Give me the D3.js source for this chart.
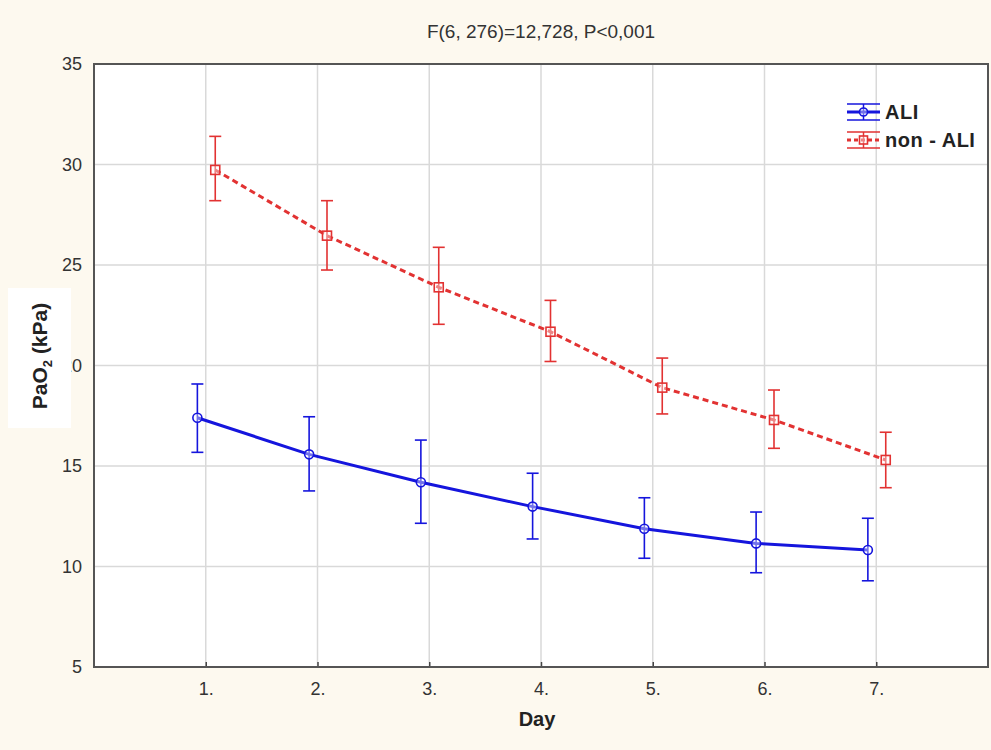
<!DOCTYPE html>
<html>
<head>
<meta charset="utf-8">
<script src="https://cdn.jsdelivr.net/npm/d3@7"></script>
<style>
  body { margin: 0; background: #fdf9ef; }
  svg { display: block; font-family: "Liberation Sans", Arial, sans-serif; }
</style>
</head>
<body>
<div id="chart-area"></div>
<script>
// data
var days = ["1.", "2.", "3.", "4.", "5.", "6.", "7."];
var aliMean = [17.4, 15.58, 14.19, 12.98, 11.88, 11.15, 10.82];
var aliUpper = [19.08, 17.45, 16.29, 14.64, 13.42, 12.71, 12.40];
var aliLower = [15.68, 13.76, 12.15, 11.37, 10.41, 9.69, 9.29];
var nonMean = [29.73, 26.46, 23.89, 21.68, 18.9, 17.29, 15.3];
var nonUpper = [31.4, 28.2, 25.88, 23.24, 20.37, 18.78, 16.68];
var nonLower = [28.2, 24.75, 22.05, 20.2, 17.59, 15.88, 13.92];
var yTicks = [5, 10, 15, 20, 25, 30, 35];

var width = 991, height = 750;
var margin = {top: 64, right: 3, bottom: 83, left: 94};

var svg = d3.select("#chart-area").append("svg")
    .attr("width", width)
    .attr("height", height);

var x = d3.scaleLinear().domain([0, 8]).range([margin.left, width - margin.right]);
var y = d3.scaleLinear().domain([5, 35]).range([height - margin.bottom, margin.top]);

// plot area
svg.append("rect")
    .attr("x", x(0)).attr("y", y(35))
    .attr("width", x(8) - x(0)).attr("height", y(5) - y(35))
    .style("fill", "white");

// grid
svg.append("g").selectAll("line.h")
    .data(yTicks.slice(1, -1))
    .enter().append("line")
    .attr("x1", x(0)).attr("x2", x(8))
    .attr("y1", function(d) { return y(d); })
    .attr("y2", function(d) { return y(d); })
    .style("stroke", "#d9d9d9").style("stroke-width", 1.5);

svg.append("g").selectAll("line.v")
    .data(days)
    .enter().append("line")
    .attr("x1", function(d, i) { return x(i + 1); })
    .attr("x2", function(d, i) { return x(i + 1); })
    .attr("y1", y(35)).attr("y2", y(5))
    .style("stroke", "#d9d9d9").style("stroke-width", 1.5);

// axes
var yAxis = d3.axisLeft(y).tickValues(yTicks).tickSize(0).tickPadding(12);
var gy = svg.append("g")
    .attr("transform", "translate(" + x(0) + ",0)")
    .call(yAxis);
gy.select(".domain").remove();
gy.selectAll("text").style("font-size", "18px").style("fill", "#333");

var xAxis = d3.axisBottom(x)
    .tickValues(d3.range(1, 8))
    .tickFormat(function(d) { return days[d - 1]; })
    .tickSizeInner(-5).tickSizeOuter(0).tickPadding(15);
var gx = svg.append("g")
    .attr("transform", "translate(0," + y(5) + ")")
    .call(xAxis);
gx.select(".domain").remove();
gx.selectAll("line").style("stroke", "#444").style("stroke-width", 1.5);
gx.selectAll("text").style("font-size", "18px").style("fill", "#333");

// frame
svg.append("rect")
    .attr("x", x(0)).attr("y", y(35))
    .attr("width", x(8) - x(0)).attr("height", y(5) - y(35))
    .style("fill", "none").style("stroke", "#555").style("stroke-width", 2);

// series
var series = [
    {name: "ALI", mean: aliMean, hi: aliUpper, lo: aliLower, color: "#1515dd", dx: -0.075, dash: null, shape: "circle"},
    {name: "non - ALI", mean: nonMean, hi: nonUpper, lo: nonLower, color: "#e23232", dx: 0.085, dash: "6,4", shape: "square"}
];

series.forEach(function(s) {
    var pts = s.mean.map(function(v, i) { return {x: i + 1 + s.dx, v: v, hi: s.hi[i], lo: s.lo[i]}; });
    var g = svg.append("g");

    g.append("path")
        .datum(pts)
        .attr("d", d3.line().x(function(d) { return x(d.x); }).y(function(d) { return y(d.v); }))
        .style("fill", "none")
        .style("stroke", s.color)
        .style("stroke-width", 3)
        .style("stroke-dasharray", s.dash);

    // error bars
    g.selectAll("line.err")
        .data(pts).enter().append("line")
        .attr("x1", function(d) { return x(d.x); })
        .attr("x2", function(d) { return x(d.x); })
        .attr("y1", function(d) { return y(d.hi); })
        .attr("y2", function(d) { return y(d.lo); })
        .style("stroke", s.color).style("stroke-width", 1.6);
    ["hi", "lo"].forEach(function(k) {
        g.selectAll("line.cap" + k)
            .data(pts).enter().append("line")
            .attr("x1", function(d) { return x(d.x) - 6; })
            .attr("x2", function(d) { return x(d.x) + 6; })
            .attr("y1", function(d) { return y(d[k]); })
            .attr("y2", function(d) { return y(d[k]); })
            .style("stroke", s.color).style("stroke-width", 1.6);
    });

    // markers
    if (s.shape == "circle") {
        g.selectAll("circle")
            .data(pts).enter().append("circle")
            .attr("cx", function(d) { return x(d.x); })
            .attr("cy", function(d) { return y(d.v); })
            .attr("r", 4.5)
            .style("fill", "white").style("fill-opacity", 0.4)
            .style("stroke", s.color).style("stroke-width", 1.6);
    } else {
        g.selectAll("rect")
            .data(pts).enter().append("rect")
            .attr("x", function(d) { return x(d.x) - 4.5; })
            .attr("y", function(d) { return y(d.v) - 4.5; })
            .attr("width", 9).attr("height", 9)
            .style("fill", "white").style("fill-opacity", 0.4)
            .style("stroke", s.color).style("stroke-width", 1.6);
    }
});

// legend
var legend = svg.append("g").attr("transform", "translate(847,112)");
series.forEach(function(s, i) {
    var lg = legend.append("g").attr("transform", "translate(0," + (i * 28) + ")");
    lg.append("line").attr("x1", 0).attr("x2", 33).attr("y1", -8).attr("y2", -8)
        .style("stroke", s.color).style("stroke-width", 1.5);
    lg.append("line").attr("x1", 0).attr("x2", 33).attr("y1", 8).attr("y2", 8)
        .style("stroke", s.color).style("stroke-width", 1.5);
    lg.append("line").attr("x1", 16.5).attr("x2", 16.5).attr("y1", -8).attr("y2", 8)
        .style("stroke", s.color).style("stroke-width", 1.5);
    lg.append("line").attr("x1", 0).attr("x2", 33).attr("y1", 0).attr("y2", 0)
        .style("stroke", s.color).style("stroke-width", 3)
        .style("stroke-dasharray", s.dash ? "4,3" : null);
    if (s.shape == "circle") {
        lg.append("circle").attr("cx", 16.5).attr("cy", 0).attr("r", 4)
            .style("fill", "white").style("fill-opacity", 0.4)
            .style("stroke", s.color).style("stroke-width", 1.6);
    } else {
        lg.append("rect").attr("x", 12.5).attr("y", -4).attr("width", 8).attr("height", 8)
            .style("fill", "white").style("fill-opacity", 0.4)
            .style("stroke", s.color).style("stroke-width", 1.6);
    }
    lg.append("text")
        .attr("x", 38).attr("y", 7)
        .style("font-size", "20px").style("font-weight", "bold").style("fill", "#222")
        .style("letter-spacing", "0.5px")
        .text(s.name);
});

// title
svg.append("text")
    .attr("x", 541).attr("y", 38)
    .attr("text-anchor", "middle")
    .style("font-size", "19px").style("fill", "#333")
    .text("F(6, 276)=12,728, P<0,001");

// x label
svg.append("text")
    .attr("x", 537).attr("y", 726)
    .attr("text-anchor", "middle")
    .style("font-size", "20px").style("font-weight", "bold").style("fill", "#222")
    .text("Day");

// y label on its white box
svg.append("rect")
    .attr("x", 8).attr("y", 288)
    .attr("width", 63).attr("height", 140)
    .style("fill", "white");
var yl = svg.append("text")
    .attr("transform", "translate(47,356) rotate(-90)")
    .attr("text-anchor", "middle")
    .style("font-size", "21px").style("font-weight", "bold").style("fill", "#222");
yl.append("tspan").text("PaO");
yl.append("tspan").attr("dy", 5).style("font-size", "13px").text("2");
yl.append("tspan").attr("dy", -5).text(" (kPa)");
</script>
</body>
</html>
